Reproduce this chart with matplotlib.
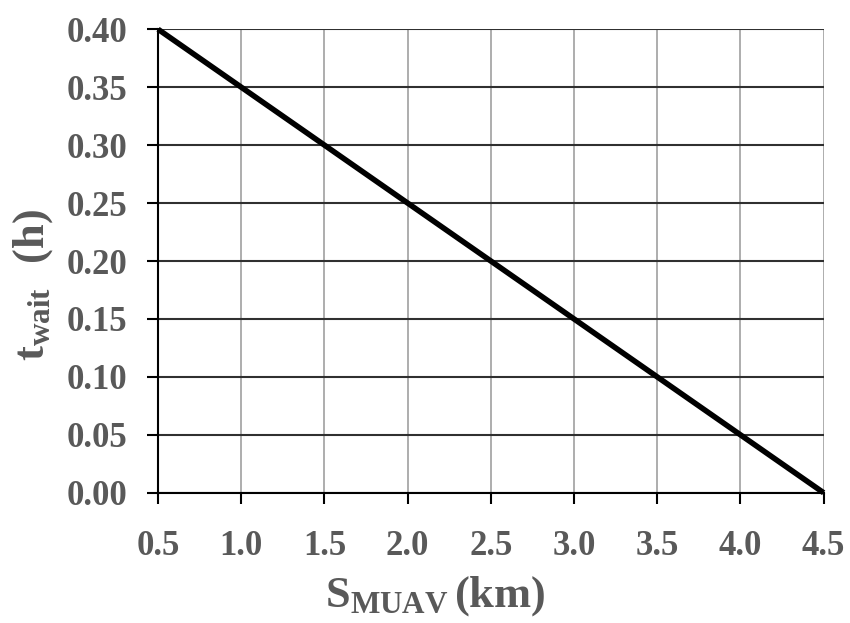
import numpy as np
import matplotlib
matplotlib.use("Agg")
import matplotlib.pyplot as plt

# data
s_muav = [0.5, 1.0, 1.5, 2.0, 2.5, 3.0, 3.5, 4.0, 4.5]
t_wait = [0.40, 0.35, 0.30, 0.25, 0.20, 0.15, 0.10, 0.05, 0.00]
x_ticks = [0.5, 1.0, 1.5, 2.0, 2.5, 3.0, 3.5, 4.0, 4.5]
y_ticks = [0.00, 0.05, 0.10, 0.15, 0.20, 0.25, 0.30, 0.35, 0.40]

TXT = "#595959"

plt.rcParams["font.family"] = "Liberation Serif"
plt.rcParams["font.weight"] = "bold"
plt.rcParams["mathtext.fontset"] = "custom"
plt.rcParams["mathtext.rm"] = "Liberation Serif:bold"
plt.rcParams["mathtext.bf"] = "Liberation Serif:bold"
plt.rcParams["mathtext.it"] = "Liberation Serif:bold"

fig = plt.figure(figsize=(8.5, 6.23), dpi=100)
ax = fig.add_axes([0.186, 0.209, 0.783, 0.744])

ax.plot(s_muav, t_wait, color="black", lw=4, solid_capstyle="butt", zorder=3, clip_on=False)

ax.set_xlim(0.5, 4.5)
ax.set_ylim(0.0, 0.40)
ax.set_xticks(x_ticks)
ax.set_yticks(y_ticks)
ax.set_xticklabels([f"{v:.1f}" for v in x_ticks])
ax.set_yticklabels([f"{v:.2f}" for v in y_ticks])

# grid: gray verticals, dark horizontals
ax.xaxis.grid(True, color="#a0a0a0", lw=1.2)
ax.yaxis.grid(True, color="#303030", lw=1.5)
ax.set_axisbelow(True)

for side in ("top", "right"):
    ax.spines[side].set_visible(False)
for side in ("left", "bottom"):
    ax.spines[side].set_color("black")
    ax.spines[side].set_linewidth(1.5)

ax.tick_params(axis="x", direction="out", length=8, width=1.5, pad=19,
               labelsize=25, labelcolor=TXT)
ax.tick_params(axis="y", direction="out", length=8, width=1.5, pad=14,
               labelsize=25, labelcolor=TXT)
for lab in ax.get_xticklabels() + ax.get_yticklabels():
    lab.set_fontweight("bold")

ax.set_xlabel(r"$\mathrm{S_{MUAV}\,(km)}$", fontsize=32, color=TXT)
ax.set_ylabel(r"$\mathrm{t_{wait}\ \ (h)}$", fontsize=32, color=TXT)
# the original labels sit off-centre
ax.xaxis.set_label_coords(0.417, -0.176)
ax.yaxis.set_label_coords(-0.155, 0.448)

fig.savefig("out.png", dpi=100)
